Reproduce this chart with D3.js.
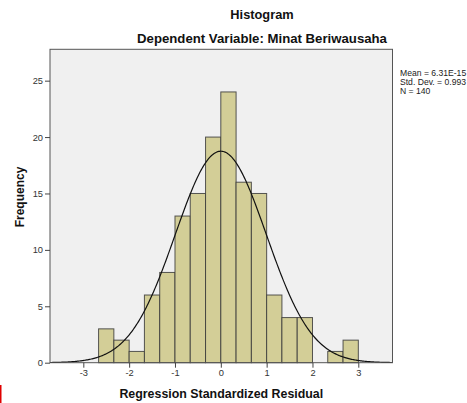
<!DOCTYPE html>
<html><head><meta charset="utf-8">
<script src="https://cdn.jsdelivr.net/npm/d3@7"></script>
<style>
html,body{margin:0;padding:0;background:#fff;}
svg{display:block;font-family:"Liberation Sans",Arial,sans-serif;}
</style></head>
<body>
<svg id="chart" width="467" height="403"></svg>
<script>
const binLower = [-2.667,-2.333,-2.0,-1.667,-1.333,-1.0,-0.667,-0.333,0.0,0.333,0.667,1.0,1.333,1.667,2.0,2.333,2.667];
const binWidth = 0.3333;
const counts   = [3,2,1,6,8,13,15,20,24,16,15,6,4,4,0,1,2];
const xTicks = [-3,-2,-1,0,1,2,3];
const yTicks = [0,5,10,15,20,25];
const statLabels = ["Mean = 6.31E-15","Std. Dev. = 0.993","N = 140"];
const statMean = 6.31e-15, statSd = 0.993, statN = 140;

const svg = d3.select("#chart");
const x = d3.scaleLinear().domain([-3.727,3.746]).range([50,392.5]);
const y = d3.scaleLinear().domain([0,27.78]).range([362.7,49.3]);

// plot background
svg.append("rect").attr("x",x.range()[0]).attr("y",y.range()[1])
  .attr("width",x.range()[1]-x.range()[0]).attr("height",y.range()[0]-y.range()[1])
  .attr("fill","#f0f0f0");

// bars
svg.append("g").selectAll("rect").data(counts.map((c,i)=>({c,x0:binLower[i]})))
  .join("rect").filter(d=>d.c>0)
  .attr("x",d=>x(d.x0)).attr("y",d=>y(d.c))
  .attr("width",d=>x(d.x0+binWidth)-x(d.x0)).attr("height",d=>y(0)-y(d.c))
  .attr("fill","#d3ce97").attr("stroke","#3a3a3a").attr("stroke-width",1).attr("stroke-opacity",0.85);

// normal curve
const pts = d3.range(x.domain()[0], x.domain()[1]+0.001, 0.02);
const dens = v => statN*binWidth/(statSd*Math.sqrt(2*Math.PI))*Math.exp(-0.5*Math.pow((v-statMean)/statSd,2));
svg.append("path").datum(pts)
  .attr("d",d3.line().x(d=>x(d)).y(d=>y(dens(d))))
  .attr("fill","none").attr("stroke","#111").attr("stroke-width",1.2);

// frame
svg.append("rect").attr("x",x.range()[0]).attr("y",y.range()[1])
  .attr("width",x.range()[1]-x.range()[0]).attr("height",y.range()[0]-y.range()[1])
  .attr("fill","none").attr("stroke","#555").attr("stroke-width",1);

// axes
const yAxis = svg.append("g").attr("transform",`translate(${x.range()[0]},0)`)
  .call(d3.axisLeft(y).tickValues(yTicks).tickSize(5).tickPadding(2).tickFormat(d3.format("d")));
const xAxis = svg.append("g").attr("transform",`translate(0,${y.range()[0]})`)
  .call(d3.axisBottom(x).tickValues(xTicks).tickSize(5).tickPadding(2).tickFormat(d=>d));
[yAxis,xAxis].forEach(a=>{
  a.select(".domain").remove();
  a.selectAll("line").attr("stroke","#444");
  a.selectAll("text").attr("fill","#333").style("font-size","9.3px").style("font-family","Liberation Sans, Arial, sans-serif");
});

// titles
svg.append("text").attr("x",262).attr("y",18.5).attr("text-anchor","middle")
  .style("font-weight","bold").style("font-size","12.8px").attr("fill","#111").text("Histogram");
svg.append("text").attr("x",262).attr("y",43.3).attr("text-anchor","middle")
  .style("font-weight","bold").style("font-size","13.2px").attr("fill","#111").text("Dependent Variable: Minat Beriwausaha");
svg.append("text").attr("x",221.3).attr("y",397.5).attr("text-anchor","middle")
  .style("font-weight","bold").style("font-size","12.4px").attr("fill","#111").text("Regression Standardized Residual");
svg.append("text").attr("transform","translate(24,197) rotate(-90)").attr("text-anchor","middle")
  .style("font-weight","bold").style("font-size","12px").attr("fill","#111").text("Frequency");

// stats
svg.append("g").selectAll("text").data(statLabels).join("text")
  .attr("x",400).attr("y",(d,i)=>75.5+i*9)
  .style("font-size","8.6px").attr("fill","#222").text(d=>d);

// red marker at bottom-left
svg.append("rect").attr("x",0).attr("y",385).attr("width",1.5).attr("height",18).attr("fill","#e00000");
</script>
</body></html>
